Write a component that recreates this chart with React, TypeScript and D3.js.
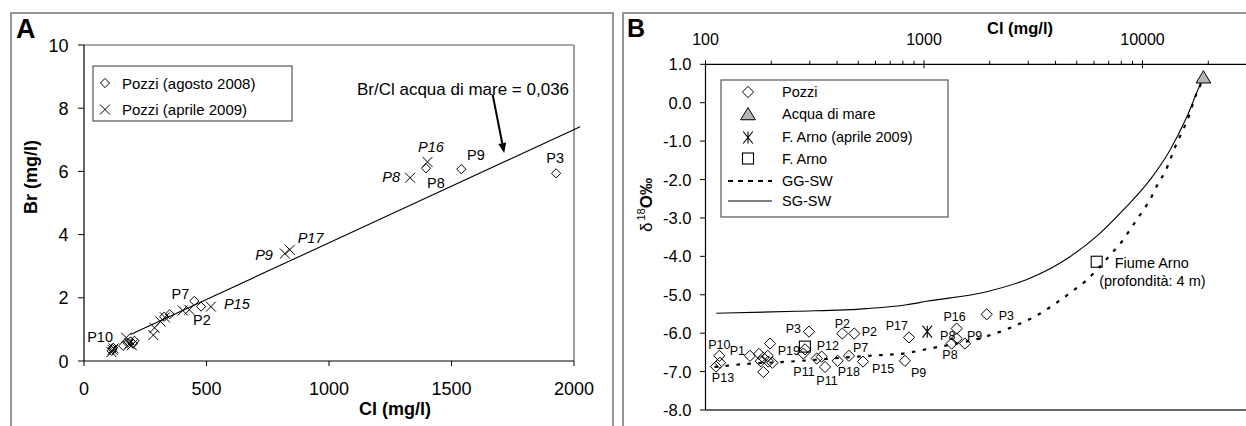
import React from "react";
import * as d3 from "d3";

// ---------------- Panel A data ----------------
const clTicksA = [0, 500, 1000, 1500, 2000];
const brTicksA = [0, 2, 4, 6, 8, 10];

const pozzi2008Cl = [113, 116, 119, 160, 178, 190, 200, 206, 327, 350, 450, 478, 1396, 1540, 1927];
const pozzi2008Br = [0.32, 0.38, 0.42, 0.48, 0.58, 0.62, 0.55, 0.64, 1.4, 1.48, 1.9, 1.72, 6.1, 6.07, 5.94];
const pozzi2008Lab = ["", "P10", "", "", "", "", "", "", "", "", "P7", "P2", "P8", "P9", "P3"];

const pozzi2009Cl = [112, 117, 121, 172, 185, 195, 283, 288, 312, 330, 403, 430, 518, 820, 840, 1331, 1402];
const pozzi2009Br = [0.28, 0.35, 0.4, 0.74, 0.55, 0.5, 0.82, 1.05, 1.25, 1.38, 1.6, 1.62, 1.72, 3.4, 3.52, 5.8, 6.3];
const pozzi2009Lab = ["", "", "", "", "", "", "", "", "", "", "", "", "P15", "P9", "P17", "P8", "P16"];

const seaLineCl = [190, 2025];
const seaLineBr = [0.84, 7.41];
const arrowCl = [1668, 1715];
const arrowBr = [8.43, 6.58];

// ---------------- Panel B data ----------------
const clTicksB = [100, 1000, 10000];
const clMinorB = [200, 300, 400, 500, 600, 700, 800, 900, 2000, 3000, 4000, 5000, 6000, 7000, 8000, 9000, 20000];
const d18OTicksB = [1, 0, -1, -2, -3, -4, -5, -6, -7, -8];

const pozziCl = [115.7, 111.7, 116.5, 159.8, 175.8, 183.9, 197.4, 192.7, 183.9, 193.9, 178.9, 202.2, 297.6, 285.4, 280.3, 322.8, 340.2, 352.3, 402.7, 453.7, 525.9, 422.9, 479.7, 818.4, 853.8, 1411, 1936, 1339, 1411, 1540];
const pozziD18O = [-6.59, -6.87, -6.77, -6.59, -6.54, -6.64, -6.27, -6.59, -7.01, -6.74, -6.73, -6.77, -5.96, -6.42, -6.53, -6.66, -6.61, -6.88, -6.72, -6.59, -6.74, -6.01, -6.01, -6.72, -6.11, -5.88, -5.51, -6.27, -6.14, -6.27];
const pozziLab = ["P10", "P13", "", "P1", "", "", "", "", "", "", "", "", "P3", "P19", "", "P11", "P12", "P11", "P18", "P7", "P15", "P2", "P2", "P9", "P17", "P16", "P3", "P8", "P8", "P9"];

const seaCl = [19000];
const seaD18O = [0.65];
const arnoAprCl = [1035];
const arnoAprD18O = [-5.96];
const arnoCl = [285, 6170];
const arnoD18O = [-6.35, -4.14];

const sgswCl = [112, 261, 547, 833, 1028, 1936, 3055, 4657, 6384, 8170, 10820, 13370, 15920, 18200, 19000];
const sgswD18O = [-5.48, -5.43, -5.36, -5.26, -5.17, -4.92, -4.57, -4.01, -3.4, -2.79, -2.01, -1.23, -0.38, 0.42, 0.65];

const ggswCl = [110, 154, 243, 359, 547, 804, 1063, 1936, 2656, 3515, 4040, 4745, 5495, 7100, 8030, 9080, 10020, 10820, 11690, 12680, 14330, 15380, 16380, 17170, 18200, 19000];
const ggswD18O = [-6.88, -6.8, -6.74, -6.67, -6.59, -6.53, -6.4, -6.08, -5.79, -5.44, -5.21, -4.92, -4.64, -3.97, -3.62, -3.18, -2.82, -2.53, -2.14, -1.8, -1.06, -0.69, -0.32, 0.05, 0.4, 0.65];

const FONT = "'Liberation Sans', Arial, Helvetica, sans-serif";

type LabPos = [string, number, number]; // anchor, dx, dy

const labPosA2008: Record<number, LabPos> = {
  1: ["end", 0.6, -7.3],
  10: ["end", -5, -1.7],
  11: ["start", -8, 18.4],
  12: ["start", 1, 19.5],
  13: ["start", 5.7, -9.2],
  14: ["middle", -1, -10.3],
};
const labPosA2009: Record<number, LabPos> = {
  12: ["start", 13, 2.4],
  13: ["end", -12, 6.4],
  14: ["start", 7.9, -6.5],
  15: ["end", -10, 4],
  16: ["start", -9.5, -10.2],
};
const labPosB: Record<number, LabPos> = {
  0: ["middle", 0, -7],
  1: ["middle", 7, 15.6],
  3: ["end", -5, -1],
  12: ["end", -8, 1],
  13: ["end", -5, 6],
  15: ["end", -2, 17],
  16: ["start", -5, -6.7],
  17: ["middle", 2, 18.3],
  18: ["start", 0, 15.3],
  19: ["start", 4, -4],
  20: ["start", 9, 11.6],
  21: ["middle", 0, -5.3],
  22: ["start", 7.4, 2.7],
  23: ["start", 6, 16],
  24: ["end", -1, -7],
  25: ["middle", -2, -8],
  26: ["start", 12, 5.7],
  27: ["middle", -4, -3.3],
  28: ["middle", -6.7, 20.2],
  29: ["start", 2, -4],
};

const diamond = (x: number, y: number, s: number) => `M${x},${y - s}L${x + s},${y}L${x},${y + s}L${x - s},${y}Z`;
const cross = (x: number, y: number, s: number) => `M${x - s},${y - s}L${x + s},${y + s}M${x - s},${y + s}L${x + s},${y - s}`;
const asterisk = (x: number, y: number, s: number) =>
  `M${x - s * 0.8},${y - s}L${x + s * 0.8},${y + s}M${x - s * 0.8},${y + s}L${x + s * 0.8},${y - s}M${x},${y - s}L${x},${y + s}`;
const triangle = (x: number, y: number, s: number) => `M${x},${y - s}L${x + s * 1.05},${y + s * 0.75}L${x - s * 1.05},${y + s * 0.75}Z`;

export default function App() {
  const xA = d3.scaleLinear().domain([0, 2000]).range([84, 574]);
  const yA = d3.scaleLinear().domain([0, 10]).range([361, 45]);
  const xB = d3.scaleLog().domain([100, 30000]).range([705.5, 705.5 + 218.5 * Math.log10(300)]);
  const yB = d3.scaleLinear().domain([-8, 1]).range([410, 64.3]);

  const curveGen = d3
    .line<[number, number]>()
    .x((d) => xB(d[0]))
    .y((d) => yB(d[1]))
    .curve(d3.curveMonotoneX);
  const sgPath = curveGen(sgswCl.map((c, i) => [c, sgswD18O[i]] as [number, number]));
  const ggPath = curveGen(ggswCl.map((c, i) => [c, ggswD18O[i]] as [number, number]));

  const ax0 = xA(arrowCl[0]), ay0 = yA(arrowBr[0]), ax1 = xA(arrowCl[1]), ay1 = yA(arrowBr[1]);
  const ang = Math.atan2(ay1 - ay0, ax1 - ax0);
  const ahL = 10, ahW = 4;
  const bx = ax1 - ahL * Math.cos(ang), by = ay1 - ahL * Math.sin(ang);
  const arrowHead = `M${ax1},${ay1}L${bx + ahW * Math.sin(ang)},${by - ahW * Math.cos(ang)}L${bx - ahW * Math.sin(ang)},${by + ahW * Math.cos(ang)}Z`;

  const [xBmin] = xB.range();

  return (
    <svg
      width={1246}
      height={426}
      viewBox="0 0 1246 426"
      style={{ position: "absolute", left: 0, top: 0, background: "#fff" }}
      fontFamily={FONT}
    >
      <rect x={0} y={0} width={1246} height={426} fill="#fff" />
      {/* Panel borders */}
      <rect x={11} y={13} width={602} height={440} fill="none" stroke="#7a7a7a" strokeWidth={1.6} />
      <rect x={623} y={13} width={640} height={440} fill="none" stroke="#7a7a7a" strokeWidth={1.6} />

      {/* ================= PANEL A ================= */}
      <text x={16} y={38} fontSize={27} fontWeight="bold">A</text>
      <line x1={84} x2={574} y1={45} y2={45} stroke="#555" strokeWidth={1.2} />
      <line x1={574} x2={574} y1={45} y2={361} stroke="#888" strokeWidth={1.6} />
      <line x1={84} x2={574} y1={361} y2={361} stroke="#000" strokeWidth={1.2} />
      <line x1={84} x2={84} y1={45} y2={361} stroke="#000" strokeWidth={1.2} />
      {brTicksA.map((t) => (
        <g key={"ya" + t}>
          <line x1={78} x2={84} y1={yA(t)} y2={yA(t)} stroke="#000" />
          <text x={68.5} y={yA(t) + 6.5} fontSize={18} textAnchor="end">{t}</text>
        </g>
      ))}
      {clTicksA.map((t) => (
        <g key={"xa" + t}>
          <line x1={xA(t)} x2={xA(t)} y1={361} y2={366} stroke="#000" />
          <text x={xA(t)} y={395} fontSize={18} textAnchor="middle">{t}</text>
        </g>
      ))}
      <text x={395} y={415} fontSize={18} fontWeight="bold" textAnchor="middle">Cl (mg/l)</text>
      <text transform="translate(37,177) rotate(-90)" fontSize={18} fontWeight="bold" textAnchor="middle">Br (mg/l)</text>

      <line
        x1={xA(seaLineCl[0])}
        y1={yA(seaLineBr[0])}
        x2={xA(seaLineCl[1])}
        y2={yA(seaLineBr[1])}
        stroke="#000"
        strokeWidth={1.1}
      />
      <line x1={ax0} y1={ay0} x2={bx} y2={by} stroke="#000" strokeWidth={2} />
      <path d={arrowHead} fill="#000" />
      <text x={463} y={95} fontSize={17} textAnchor="middle">Br/Cl acqua di mare = 0,036</text>

      {pozzi2008Cl.map((c, i) => (
        <path key={"d8" + i} d={diamond(xA(c), yA(pozzi2008Br[i]), 4.6)} fill="none" stroke="#000" strokeWidth={1} />
      ))}
      {pozzi2009Cl.map((c, i) => (
        <path key={"x9" + i} d={cross(xA(c), yA(pozzi2009Br[i]), 5)} fill="none" stroke="#000" strokeWidth={1} />
      ))}
      {pozzi2008Lab.map((l, i) => {
        const p = labPosA2008[i];
        if (!l || !p) return null;
        return (
          <text key={"l8" + i} x={xA(pozzi2008Cl[i]) + p[1]} y={yA(pozzi2008Br[i]) + p[2]} fontSize={14.5} textAnchor={p[0]}>
            {l}
          </text>
        );
      })}
      {pozzi2009Lab.map((l, i) => {
        const p = labPosA2009[i];
        if (!l || !p) return null;
        return (
          <text key={"l9" + i} x={xA(pozzi2009Cl[i]) + p[1]} y={yA(pozzi2009Br[i]) + p[2]} fontSize={14.5} fontStyle="italic" textAnchor={p[0]}>
            {l}
          </text>
        );
      })}

      <rect x={93} y={66} width={199} height={55} fill="#fff" stroke="#333" strokeWidth={1} />
      <path d={diamond(105, 83, 4.6)} fill="none" stroke="#000" />
      <text x={122} y={88.5} fontSize={15}>Pozzi (agosto 2008)</text>
      <path d={cross(105, 109.5, 5)} fill="none" stroke="#000" />
      <text x={122} y={114.5} fontSize={15}>Pozzi (aprile 2009)</text>

      {/* ================= PANEL B ================= */}
      <text x={627} y={37} fontSize={25} fontWeight="bold">B</text>
      <line x1={xBmin} x2={1246} y1={yB(1)} y2={yB(1)} stroke="#000" strokeWidth={1.2} />
      <line x1={xBmin} x2={xBmin} y1={yB(1)} y2={410} stroke="#000" strokeWidth={1.2} />
      <line x1={xBmin} x2={1246} y1={410} y2={410} stroke="#666" strokeWidth={1.8} />
      {clMinorB.map((t) => (
        <line key={"mb" + t} x1={xB(t)} x2={xB(t)} y1={yB(1) - 3.5} y2={yB(1)} stroke="#000" />
      ))}
      {clTicksB.map((t) => (
        <g key={"xb" + t}>
          <line x1={xB(t)} x2={xB(t)} y1={yB(1) - 4} y2={yB(1) + 4} stroke="#000" />
          <text x={xB(t)} y={45} fontSize={16} textAnchor="middle">{t}</text>
        </g>
      ))}
      <text x={1020} y={34} fontSize={16.5} fontWeight="bold" textAnchor="middle">Cl (mg/l)</text>
      {d18OTicksB.map((t) => (
        <g key={"yb" + t}>
          <line x1={xBmin - 5.5} x2={xBmin} y1={yB(t)} y2={yB(t)} stroke="#000" />
          <text x={691.5} y={yB(t) + 6} fontSize={16.5} textAnchor="end">{t.toFixed(1)}</text>
        </g>
      ))}
      <text transform="translate(652,205) rotate(-90)" fontSize={17} textAnchor="middle">
        <tspan>δ</tspan>
        <tspan fontSize={11} dy={-7} dx={2}>18</tspan>
        <tspan fontWeight="bold" dy={7}>O‰</tspan>
      </text>

      <path d={sgPath || ""} fill="none" stroke="#000" strokeWidth={1.1} />
      <path d={ggPath || ""} fill="none" stroke="#000" strokeWidth={2.2} strokeDasharray="3.5,7.5" />

      {pozziCl.map((c, i) => (
        <path key={"pb" + i} d={diamond(xB(c), yB(pozziD18O[i]), 5.6)} fill="none" stroke="#000" strokeWidth={1} />
      ))}
      {arnoCl.map((c, i) => (
        <rect
          key={"ar" + i}
          x={xB(c) - 5.5}
          y={yB(arnoD18O[i]) - 5.5}
          width={11}
          height={11}
          fill="none"
          stroke="#000"
          strokeWidth={1.1}
        />
      ))}
      {arnoAprCl.map((c, i) => (
        <path key={"aa" + i} d={asterisk(xB(c), yB(arnoAprD18O[i]), 6)} fill="none" stroke="#000" strokeWidth={1.1} />
      ))}
      {seaCl.map((c, i) => (
        <path key={"sw" + i} d={triangle(xB(c), yB(seaD18O[i]), 7)} fill="#b5b5b5" stroke="#000" strokeWidth={1} />
      ))}
      {pozziLab.map((l, i) => {
        const p = labPosB[i];
        if (!l || !p) return null;
        return (
          <text key={"lb" + i} x={xB(pozziCl[i]) + p[1]} y={yB(pozziD18O[i]) + p[2]} fontSize={12.5} textAnchor={p[0]}>
            {l}
          </text>
        );
      })}
      <text x={xB(arnoCl[1]) + 18} y={yB(arnoD18O[1]) + 6.5} fontSize={14.5}>Fiume Arno</text>
      <text x={xB(arnoCl[1]) + 2.5} y={yB(arnoD18O[1]) + 24.5} fontSize={14.5}>(profondità: 4 m)</text>

      <rect x={721} y={80} width={227} height={137} fill="#fff" stroke="#555" strokeWidth={1.2} />
      <path d={diamond(748, 92, 5.6)} fill="none" stroke="#000" />
      <text x={782} y={97} fontSize={14.5}>Pozzi</text>
      <path d={triangle(748, 114.5, 7)} fill="#b5b5b5" stroke="#000" />
      <text x={782} y={119} fontSize={14.5}>Acqua di mare</text>
      <path d={asterisk(748, 137.5, 6)} fill="none" stroke="#000" strokeWidth={1.1} />
      <text x={782} y={142} fontSize={14.5}>F. Arno (aprile 2009)</text>
      <rect x={742.5} y={153} width={11} height={11} fill="none" stroke="#000" strokeWidth={1.1} />
      <text x={782} y={163.5} fontSize={14.5}>F. Arno</text>
      <line x1={728} x2={772} y1={181} y2={181} stroke="#000" strokeWidth={2.2} strokeDasharray="5,5" />
      <text x={782} y={186} fontSize={14.5}>GG-SW</text>
      <line x1={728} x2={772} y1={201} y2={201} stroke="#000" strokeWidth={1.1} />
      <text x={782} y={206} fontSize={14.5}>SG-SW</text>
    </svg>
  );
}
